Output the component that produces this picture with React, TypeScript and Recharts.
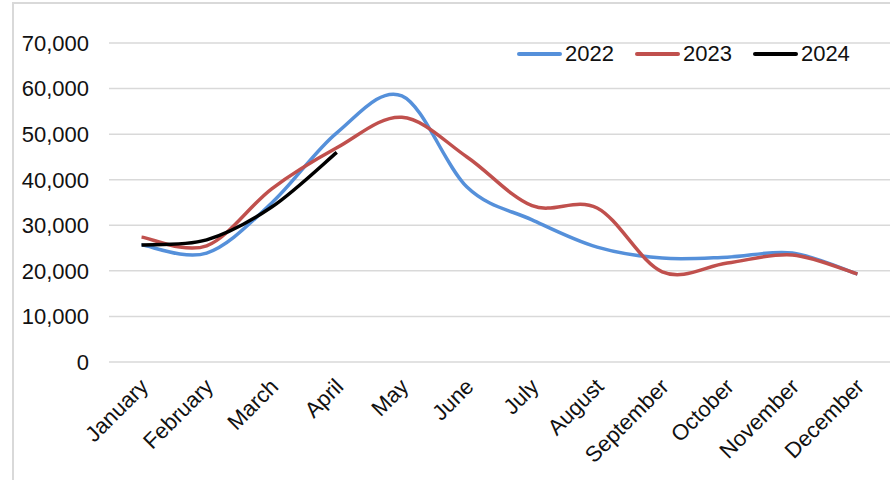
import { LineChart, Line, XAxis, YAxis, CartesianGrid } from "recharts";

// Monthly values
const months = [
  "January", "February", "March", "April", "May", "June",
  "July", "August", "September", "October", "November", "December",
];
const values2022 = [25700, 23900, 34900, 50300, 58400, 38400, 31200, 25200, 22800, 23000, 23900, 19300];
const values2023 = [27400, 25500, 38000, 47000, 53700, 45000, 34300, 33800, 19800, 21700, 23500, 19300];
const values2024 = [25700, 26800, 34000, 46000];
const yTicks = [0, 10000, 20000, 30000, 40000, 50000, 60000, 70000];

const series = [
  { key: "2022", color: "#5590DA" },
  { key: "2023", color: "#C0504D" },
  { key: "2024", color: "#000000" },
];

const data = months.map((m, i) => ({
  month: m,
  "2022": values2022[i],
  "2023": values2023[i],
  "2024": i < values2024.length ? values2024[i] : null,
}));

const FONT = "'Liberation Sans', Arial, sans-serif";

// Catmull-Rom style smoothing, closer to the spreadsheet's "smoothed line"
const smoothCurve = (context: any) => {
  let pts: number[][] = [];
  return {
    areaStart() {},
    areaEnd() {},
    lineStart() {
      pts = [];
    },
    point(x: number, y: number) {
      pts.push([+x, +y]);
    },
    lineEnd() {
      if (!pts.length) return;
      context.moveTo(pts[0][0], pts[0][1]);
      for (let i = 0; i < pts.length - 1; i++) {
        const p0 = pts[i - 1] || pts[i];
        const p1 = pts[i];
        const p2 = pts[i + 1];
        const p3 = pts[i + 2] || p2;
        context.bezierCurveTo(
          p1[0] + (p2[0] - p0[0]) / 6,
          p1[1] + (p2[1] - p0[1]) / 6,
          p2[0] - (p3[0] - p1[0]) / 6,
          p2[1] - (p3[1] - p1[1]) / 6,
          p2[0],
          p2[1]
        );
      }
    },
  };
};

// Rotated month labels, like the spreadsheet's 45° axis text
const MonthTick = ({ x, y, payload }: any) => (
  <g transform={`translate(${x + 8},${y + 18})`}>
    <text x={0} y={0} textAnchor="end" transform="rotate(-45)" fontSize={22} fill="#111" fontFamily={FONT}>
      {payload.value}
    </text>
  </g>
);

export default function App() {
  return (
    <div style={{ position: "fixed", left: 0, top: 0, width: 890, height: 480, overflow: "hidden", background: "#fff" }}>
      <div
        style={{
          position: "absolute",
          left: 12,
          top: 2,
          width: 1000,
          height: 1000,
          border: "2px solid #d9d9d9",
          boxSizing: "border-box",
        }}
      />
      <div style={{ position: "absolute", left: 0, top: 0 }}>
        <LineChart width={890} height={480} data={data} margin={{ top: 43, right: 0, bottom: 0, left: 0 }}>
          <CartesianGrid vertical={false} stroke="#d9d9d9" strokeWidth={1.5} />
          <XAxis
            dataKey="month"
            scale="band"
            axisLine={false}
            tickLine={false}
            interval={0}
            height={118}
            tick={<MonthTick />}
          />
          <YAxis
            domain={[0, 70000]}
            ticks={yTicks}
            width={109}
            axisLine={false}
            tickLine={false}
            tickSize={0}
            tickMargin={20}
            tickFormatter={(v: number) => v.toLocaleString("en-US")}
            tick={{ fill: "#111", fontSize: 22, fontFamily: FONT }}
          />
          {series.map((s) => (
            <Line
              key={s.key}
              type={smoothCurve as any}
              dataKey={s.key}
              stroke={s.color}
              strokeWidth={3.5}
              dot={false}
              activeDot={false}
              connectNulls={false}
              isAnimationActive={false}
            />
          ))}
        </LineChart>
      </div>
      <div
        style={{
          position: "absolute",
          left: 517,
          top: 41,
          display: "flex",
          alignItems: "center",
          fontFamily: FONT,
          fontSize: 22,
          color: "#111",
        }}
      >
        {series.map((s) => (
          <div key={s.key} style={{ display: "flex", alignItems: "center", marginRight: 21 }}>
            <span style={{ display: "inline-block", width: 45, height: 4, borderRadius: 2, background: s.color, marginRight: 3 }} />
            <span>{s.key}</span>
          </div>
        ))}
      </div>
    </div>
  );
}
